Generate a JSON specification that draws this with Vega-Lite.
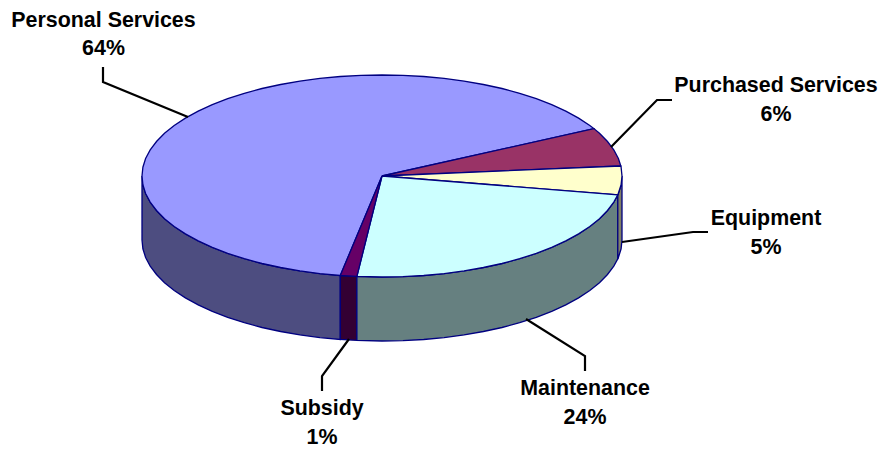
{"$schema":"https://vega.github.io/schema/vega-lite/v6.json","width":883,"height":450,"autosize":{"type":"fit","contains":"padding"},"padding":0,"background":"white","view":{"stroke":null},
"datasets":{
"walls":[
{"slice":"Personal Services","x":142,"y":176,"bottom":240},{"slice":"Personal Services","x":142.9,"y":184.8,"bottom":248.8},{"slice":"Personal Services","x":145.6,"y":193.5,"bottom":257.5},{"slice":"Personal Services","x":150.2,"y":202.1,"bottom":266.1},{"slice":"Personal Services","x":156.5,"y":210.5,"bottom":274.5},{"slice":"Personal Services","x":164.5,"y":218.7,"bottom":282.7},{"slice":"Personal Services","x":174.2,"y":226.5,"bottom":290.5},{"slice":"Personal Services","x":185.4,"y":233.9,"bottom":297.9},{"slice":"Personal Services","x":198.2,"y":240.9,"bottom":304.9},{"slice":"Personal Services","x":212.3,"y":247.4,"bottom":311.4},{"slice":"Personal Services","x":227.7,"y":253.4,"bottom":317.4},{"slice":"Personal Services","x":244.3,"y":258.7,"bottom":322.7},{"slice":"Personal Services","x":262,"y":263.5,"bottom":327.5},{"slice":"Personal Services","x":280.6,"y":267.5,"bottom":331.5},{"slice":"Personal Services","x":299.9,"y":270.9,"bottom":334.9},{"slice":"Personal Services","x":319.9,"y":273.6,"bottom":337.6},{"slice":"Personal Services","x":340.3,"y":275.5,"bottom":339.5},
{"slice":"Subsidy","x":340.3,"y":275.5,"bottom":339.5},{"slice":"Subsidy","x":356.9,"y":276.4,"bottom":340.4},
{"slice":"Maintenance","x":356.9,"y":276.4,"bottom":340.4},{"slice":"Maintenance","x":382,"y":277,"bottom":341},{"slice":"Maintenance","x":402.9,"y":276.6,"bottom":340.6},{"slice":"Maintenance","x":423.7,"y":275.5,"bottom":339.5},{"slice":"Maintenance","x":444.1,"y":273.6,"bottom":337.6},{"slice":"Maintenance","x":464.1,"y":270.9,"bottom":334.9},{"slice":"Maintenance","x":483.4,"y":267.5,"bottom":331.5},{"slice":"Maintenance","x":502,"y":263.5,"bottom":327.5},{"slice":"Maintenance","x":519.7,"y":258.7,"bottom":322.7},{"slice":"Maintenance","x":536.3,"y":253.4,"bottom":317.4},{"slice":"Maintenance","x":551.7,"y":247.4,"bottom":311.4},{"slice":"Maintenance","x":565.8,"y":240.9,"bottom":304.9},{"slice":"Maintenance","x":578.6,"y":233.9,"bottom":297.9},{"slice":"Maintenance","x":589.8,"y":226.5,"bottom":290.5},{"slice":"Maintenance","x":599.5,"y":218.7,"bottom":282.7},{"slice":"Maintenance","x":607.5,"y":210.5,"bottom":274.5},{"slice":"Maintenance","x":613.8,"y":202.1,"bottom":266.1},{"slice":"Maintenance","x":617.8,"y":194.9,"bottom":258.9},
{"slice":"Equipment","x":617.8,"y":194.9,"bottom":258.9},{"slice":"Equipment","x":618.4,"y":193.5,"bottom":257.5},{"slice":"Equipment","x":621.1,"y":184.8,"bottom":248.8},{"slice":"Equipment","x":622,"y":176,"bottom":240}
],
"tops":[
{"slice":"Personal Services","seq":0,"x":382,"y":176},{"slice":"Personal Services","seq":1,"x":593.9,"y":128.6},{"slice":"Personal Services","seq":2,"x":589.8,"y":125.5},{"slice":"Personal Services","seq":3,"x":578.6,"y":118.1},{"slice":"Personal Services","seq":4,"x":565.8,"y":111.1},{"slice":"Personal Services","seq":5,"x":551.7,"y":104.6},{"slice":"Personal Services","seq":6,"x":536.3,"y":98.6},{"slice":"Personal Services","seq":7,"x":519.7,"y":93.3},{"slice":"Personal Services","seq":8,"x":502,"y":88.5},{"slice":"Personal Services","seq":9,"x":483.4,"y":84.5},{"slice":"Personal Services","seq":10,"x":464.1,"y":81.1},{"slice":"Personal Services","seq":11,"x":444.1,"y":78.4},{"slice":"Personal Services","seq":12,"x":423.7,"y":76.5},{"slice":"Personal Services","seq":13,"x":402.9,"y":75.4},{"slice":"Personal Services","seq":14,"x":382,"y":75},{"slice":"Personal Services","seq":15,"x":361.1,"y":75.4},{"slice":"Personal Services","seq":16,"x":340.3,"y":76.5},{"slice":"Personal Services","seq":17,"x":319.9,"y":78.4},{"slice":"Personal Services","seq":18,"x":299.9,"y":81.1},{"slice":"Personal Services","seq":19,"x":280.6,"y":84.5},{"slice":"Personal Services","seq":20,"x":262,"y":88.5},{"slice":"Personal Services","seq":21,"x":244.3,"y":93.3},{"slice":"Personal Services","seq":22,"x":227.7,"y":98.6},{"slice":"Personal Services","seq":23,"x":212.3,"y":104.6},{"slice":"Personal Services","seq":24,"x":198.2,"y":111.1},{"slice":"Personal Services","seq":25,"x":185.4,"y":118.1},{"slice":"Personal Services","seq":26,"x":174.2,"y":125.5},{"slice":"Personal Services","seq":27,"x":164.5,"y":133.3},{"slice":"Personal Services","seq":28,"x":156.5,"y":141.5},{"slice":"Personal Services","seq":29,"x":150.2,"y":149.9},{"slice":"Personal Services","seq":30,"x":145.6,"y":158.5},{"slice":"Personal Services","seq":31,"x":142.9,"y":167.2},{"slice":"Personal Services","seq":32,"x":142,"y":176},{"slice":"Personal Services","seq":33,"x":142.9,"y":184.8},{"slice":"Personal Services","seq":34,"x":145.6,"y":193.5},{"slice":"Personal Services","seq":35,"x":150.2,"y":202.1},{"slice":"Personal Services","seq":36,"x":156.5,"y":210.5},{"slice":"Personal Services","seq":37,"x":164.5,"y":218.7},{"slice":"Personal Services","seq":38,"x":174.2,"y":226.5},{"slice":"Personal Services","seq":39,"x":185.4,"y":233.9},{"slice":"Personal Services","seq":40,"x":198.2,"y":240.9},{"slice":"Personal Services","seq":41,"x":212.3,"y":247.4},{"slice":"Personal Services","seq":42,"x":227.7,"y":253.4},{"slice":"Personal Services","seq":43,"x":244.3,"y":258.7},{"slice":"Personal Services","seq":44,"x":262,"y":263.5},{"slice":"Personal Services","seq":45,"x":280.6,"y":267.5},{"slice":"Personal Services","seq":46,"x":299.9,"y":270.9},{"slice":"Personal Services","seq":47,"x":319.9,"y":273.6},{"slice":"Personal Services","seq":48,"x":340.3,"y":275.5},{"slice":"Personal Services","seq":49,"x":382,"y":176},
{"slice":"Purchased Services","seq":0,"x":382,"y":176},{"slice":"Purchased Services","seq":1,"x":620.8,"y":166},{"slice":"Purchased Services","seq":2,"x":618.4,"y":158.5},{"slice":"Purchased Services","seq":3,"x":613.8,"y":149.9},{"slice":"Purchased Services","seq":4,"x":607.5,"y":141.5},{"slice":"Purchased Services","seq":5,"x":599.5,"y":133.3},{"slice":"Purchased Services","seq":6,"x":593.9,"y":128.6},{"slice":"Purchased Services","seq":7,"x":382,"y":176},
{"slice":"Equipment","seq":0,"x":382,"y":176},{"slice":"Equipment","seq":1,"x":617.8,"y":194.9},{"slice":"Equipment","seq":2,"x":621.1,"y":184.8},{"slice":"Equipment","seq":3,"x":622,"y":176},{"slice":"Equipment","seq":4,"x":621.1,"y":167.2},{"slice":"Equipment","seq":5,"x":620.8,"y":166},{"slice":"Equipment","seq":6,"x":382,"y":176},
{"slice":"Maintenance","seq":0,"x":382,"y":176},{"slice":"Maintenance","seq":1,"x":356.9,"y":276.4},{"slice":"Maintenance","seq":2,"x":382,"y":277},{"slice":"Maintenance","seq":3,"x":402.9,"y":276.6},{"slice":"Maintenance","seq":4,"x":423.7,"y":275.5},{"slice":"Maintenance","seq":5,"x":444.1,"y":273.6},{"slice":"Maintenance","seq":6,"x":464.1,"y":270.9},{"slice":"Maintenance","seq":7,"x":483.4,"y":267.5},{"slice":"Maintenance","seq":8,"x":502,"y":263.5},{"slice":"Maintenance","seq":9,"x":519.7,"y":258.7},{"slice":"Maintenance","seq":10,"x":536.3,"y":253.4},{"slice":"Maintenance","seq":11,"x":551.7,"y":247.4},{"slice":"Maintenance","seq":12,"x":565.8,"y":240.9},{"slice":"Maintenance","seq":13,"x":578.6,"y":233.9},{"slice":"Maintenance","seq":14,"x":589.8,"y":226.5},{"slice":"Maintenance","seq":15,"x":599.5,"y":218.7},{"slice":"Maintenance","seq":16,"x":607.5,"y":210.5},{"slice":"Maintenance","seq":17,"x":613.8,"y":202.1},{"slice":"Maintenance","seq":18,"x":617.8,"y":194.9},{"slice":"Maintenance","seq":19,"x":382,"y":176},
{"slice":"Subsidy","seq":0,"x":382,"y":176},{"slice":"Subsidy","seq":1,"x":340.3,"y":275.5},{"slice":"Subsidy","seq":2,"x":356.9,"y":276.4},{"slice":"Subsidy","seq":3,"x":382,"y":176}
],
"leaders":[
{"slice":"Personal Services","seq":0,"x":103,"y":67},{"slice":"Personal Services","seq":1,"x":103,"y":82},{"slice":"Personal Services","seq":2,"x":188,"y":117},
{"slice":"Purchased Services","seq":0,"x":611,"y":147},{"slice":"Purchased Services","seq":1,"x":657,"y":100},{"slice":"Purchased Services","seq":2,"x":672,"y":100},
{"slice":"Equipment","seq":0,"x":622,"y":242},{"slice":"Equipment","seq":1,"x":693,"y":232},{"slice":"Equipment","seq":2,"x":708,"y":232},
{"slice":"Maintenance","seq":0,"x":526,"y":319},{"slice":"Maintenance","seq":1,"x":585,"y":356},{"slice":"Maintenance","seq":2,"x":585,"y":371},
{"slice":"Subsidy","seq":0,"x":349,"y":339},{"slice":"Subsidy","seq":1,"x":322,"y":376},{"slice":"Subsidy","seq":2,"x":322,"y":391}
],
"labels":[
{"text":"Personal Services","x":103.5,"y":27},{"text":"64%","x":103.5,"y":55},
{"text":"Purchased Services","x":776,"y":92},{"text":"6%","x":776,"y":121},
{"text":"Equipment","x":766,"y":225},{"text":"5%","x":766,"y":254},
{"text":"Maintenance","x":585,"y":395},{"text":"24%","x":585,"y":424},
{"text":"Subsidy","x":322,"y":415},{"text":"1%","x":322,"y":444}
]},
"encoding":{
"x":{"field":"x","type":"quantitative","axis":null,"scale":{"domain":[0,883],"nice":false,"zero":false}},
"y":{"field":"y","type":"quantitative","axis":null,"scale":{"domain":[450,0],"nice":false,"zero":false}}
},
"layer":[
{"data":{"name":"walls"},"mark":{"type":"area","stroke":"#000080","strokeWidth":1.3},"encoding":{"y2":{"field":"bottom"},"detail":{"field":"slice"},"fill":{"field":"slice","type":"nominal","legend":null,"scale":{"domain":["Personal Services","Subsidy","Maintenance","Equipment"],"range":["#4D4D80","#330033","#668080","#808066"]}}}},
{"data":{"name":"tops"},"transform":[{"filter":"datum.slice==='Personal Services'"}],"mark":{"type":"line","fill":"#9999FF","stroke":"#000080","strokeWidth":1.3},"encoding":{"order":{"field":"seq","type":"quantitative"}}},
{"data":{"name":"tops"},"transform":[{"filter":"datum.slice==='Purchased Services'"}],"mark":{"type":"line","fill":"#993366","stroke":"#000080","strokeWidth":1.3},"encoding":{"order":{"field":"seq","type":"quantitative"}}},
{"data":{"name":"tops"},"transform":[{"filter":"datum.slice==='Equipment'"}],"mark":{"type":"line","fill":"#FFFFCC","stroke":"#000080","strokeWidth":1.3},"encoding":{"order":{"field":"seq","type":"quantitative"}}},
{"data":{"name":"tops"},"transform":[{"filter":"datum.slice==='Maintenance'"}],"mark":{"type":"line","fill":"#CCFFFF","stroke":"#000080","strokeWidth":1.3},"encoding":{"order":{"field":"seq","type":"quantitative"}}},
{"data":{"name":"tops"},"transform":[{"filter":"datum.slice==='Subsidy'"}],"mark":{"type":"line","fill":"#660066","stroke":"#000080","strokeWidth":1.3},"encoding":{"order":{"field":"seq","type":"quantitative"}}},
{"data":{"name":"leaders"},"mark":{"type":"line","stroke":"#000000","strokeWidth":2.2},"encoding":{"detail":{"field":"slice"},"order":{"field":"seq","type":"quantitative"}}},
{"data":{"name":"labels"},"mark":{"type":"text","font":"Liberation Sans","fontWeight":"bold","fontSize":21.4,"align":"center","baseline":"alphabetic","fill":"#000000"},"encoding":{"text":{"field":"text"}}}
]}
